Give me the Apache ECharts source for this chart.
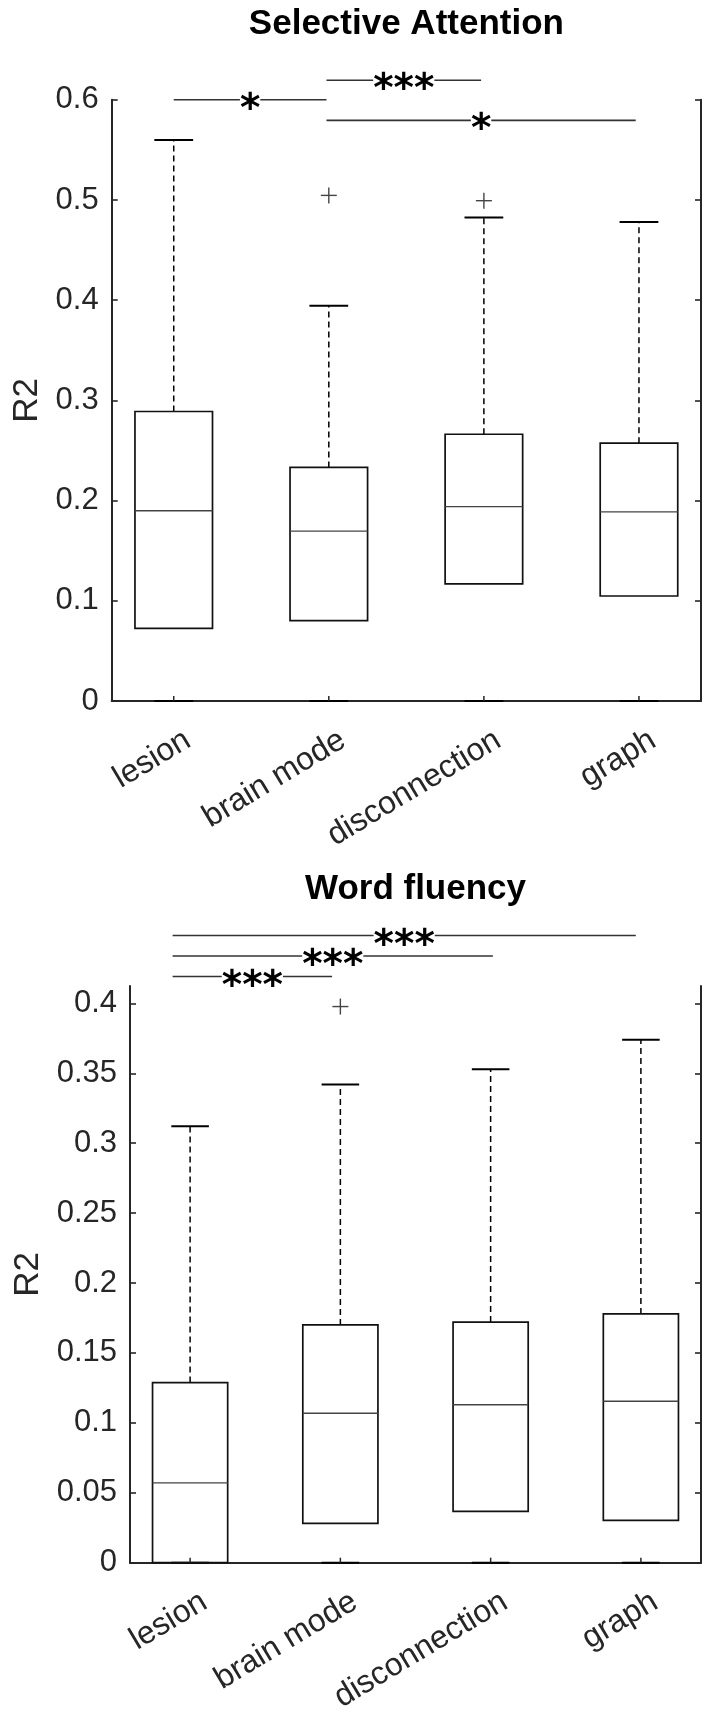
<!DOCTYPE html>
<html>
<head>
<meta charset="utf-8">
<script src="https://cdn.jsdelivr.net/npm/echarts@6/dist/echarts.min.js"></script>
<style>
  html, body { margin: 0; padding: 0; background: #fff; }
  #main { width: 724px; height: 1718px; }
</style>
</head>
<body>
<div id="main"></div>
<script>
var categories = ['lesion', 'brain mode', 'disconnection', 'graph'];

// each row: lower whisker, Q1, median, Q3, upper whisker
var attnStats = [
  [0, 0.0725, 0.1898, 0.2889, 0.5600],
  [0, 0.0803, 0.1695, 0.2331, 0.3945],
  [0, 0.1169, 0.1940, 0.2662, 0.4826],
  [0, 0.1048, 0.1887, 0.2573, 0.4780]
];
var attnOutliers = [[2, 0.5046], [3, 0.4993]];
// x from, x to, height
var attnSig = [[1.0, 1.985, 0.600], [1.985, 2.982, 0.6195], [1.985, 3.979, 0.5795]];
var attnSigText = ['*', '***', '*'];
var attnTicks = [0, 0.1, 0.2, 0.3, 0.4, 0.5, 0.6];

var fluencyStats = [
  [0, 0,      0.0571, 0.1288, 0.3121],
  [0, 0.0281, 0.1069, 0.1700, 0.3419],
  [0, 0.0367, 0.1129, 0.1721, 0.3529],
  [0, 0.0302, 0.1155, 0.1779, 0.3740]
];
var fluencyOutliers = [[2, 0.3977]];
var fluencySig = [[0.8835, 3.966, 0.4485], [0.8835, 3.015, 0.4338], [0.8835, 1.945, 0.4192]];
var fluencySigText = ['***', '***', '***'];
var fluencyTicks = [0, 0.05, 0.1, 0.15, 0.2, 0.25, 0.3, 0.35, 0.4];

var axisColor = '#262626';
var font = '"Liberation Sans", Arial, sans-serif';

var chart = echarts.init(document.getElementById('main'));

function boxItem(params, api) {
  var x = api.value(0);
  var lo = api.coord([x, api.value(1)]);
  var q1 = api.coord([x, api.value(2)]);
  var md = api.coord([x, api.value(3)]);
  var q3 = api.coord([x, api.value(4)]);
  var hi = api.coord([x, api.value(5)]);
  var cx = lo[0];
  var hb = api.coord([x + 0.25, 0])[0] - cx;
  var hc = hb / 2;
  var y0 = api.coord([x, 0])[1];
  var dash = { stroke: '#000', lineWidth: 1.5, lineDash: [6, 4] };
  var kids = [];
  kids.push({ type: 'line', shape: { x1: cx, y1: q3[1], x2: cx, y2: hi[1] }, style: dash });
  if (q1[1] - lo[1] > 0.5) {
    kids.push({ type: 'line', shape: { x1: cx, y1: lo[1], x2: cx, y2: q1[1] }, style: dash });
  }
  kids.push({ type: 'line', shape: { x1: cx - hc, y1: hi[1], x2: cx + hc, y2: hi[1] }, style: { stroke: '#000', lineWidth: 2 } });
  kids.push({ type: 'line', shape: { x1: cx - hc, y1: lo[1], x2: cx + hc, y2: lo[1] }, style: { stroke: '#000', lineWidth: 2 } });
  kids.push({ type: 'rect', shape: { x: cx - hb, y: q3[1], width: 2 * hb, height: q1[1] - q3[1] }, style: { fill: null, stroke: '#111', lineWidth: 1.7 } });
  kids.push({ type: 'line', shape: { x1: cx - hb, y1: md[1], x2: cx + hb, y2: md[1] }, style: { stroke: '#444', lineWidth: 1.4 } });
  kids.push({ type: 'line', shape: { x1: cx, y1: y0, x2: cx, y2: y0 - 5 }, style: { stroke: axisColor, lineWidth: 1.5 } });
  return { type: 'group', children: kids };
}

function plusItem(params, api) {
  var p = api.coord([api.value(0), api.value(1)]);
  var s = 8;
  return {
    type: 'group',
    children: [
      { type: 'line', shape: { x1: p[0] - s, y1: p[1], x2: p[0] + s, y2: p[1] }, style: { stroke: '#444', lineWidth: 1.4 } },
      { type: 'line', shape: { x1: p[0], y1: p[1] - s, x2: p[0], y2: p[1] + s }, style: { stroke: '#444', lineWidth: 1.4 } }
    ]
  };
}

function sigRenderer(texts) {
  return function (params, api) {
    var a = api.coord([api.value(0), api.value(2)]);
    var b = api.coord([api.value(1), api.value(2)]);
    return {
      type: 'group',
      children: [
        { type: 'line', shape: { x1: a[0], y1: a[1], x2: b[0], y2: b[1] }, style: { stroke: '#333', lineWidth: 1.6 } },
        { type: 'text', x: (a[0] + b[0]) / 2, y: a[1] + 11, style: {
          text: texts[params.dataIndex], align: 'center', verticalAlign: 'middle',
          font: 'bold 39px "DejaVu Sans", sans-serif', fill: '#000', backgroundColor: '#fff'
        } }
      ]
    };
  };
}

function labelItem(params, api) {
  var p = api.coord([api.value(0), 0]);
  return {
    type: 'text', x: p[0] + 6, y: p[1] + 23, rotation: 31 * Math.PI / 180,
    style: { text: categories[params.dataIndex], align: 'right', verticalAlign: 'top', font: '32px ' + font, fill: axisColor }
  };
}

function yAxes(gi, max, ticks, gap) {
  var common = {
    type: 'value', gridIndex: gi, min: 0, max: max,
    axisLine: { show: true, lineStyle: { color: axisColor, width: 2 } },
    axisTick: { show: true, inside: true, length: 6, customValues: ticks, lineStyle: { color: axisColor, width: 1.6 } },
    splitLine: { show: false }
  };
  var left = Object.assign({}, common, {
    position: 'left',
    axisLabel: { customValues: ticks, fontSize: 31, fontFamily: font, color: axisColor, margin: 13,
      formatter: function (v) { return String(+v.toFixed(3)); } },
    name: 'R2', nameLocation: 'middle', nameGap: gap,
    nameTextStyle: { fontSize: 35, fontFamily: font, color: axisColor }
  });
  var right = Object.assign({}, common, { position: 'right', axisLabel: { show: false } });
  return [left, right];
}

function xAxis(gi) {
  return {
    type: 'value', gridIndex: gi, min: 0.6, max: 4.4,
    axisLine: { show: true, onZero: false, lineStyle: { color: axisColor, width: 2 } },
    axisTick: { show: false }, axisLabel: { show: false }, splitLine: { show: false }
  };
}

function boxData(stats) {
  return stats.map(function (s, i) { return [i + 1].concat(s); });
}
var labelData = categories.map(function (c, i) { return [i + 1]; });

chart.setOption({
  animation: false,
  graphic: [
    { type: 'text', x: 406.4, y: 24, style: { text: 'Selective Attention', align: 'center', verticalAlign: 'middle', font: 'bold 35px ' + font, fill: '#000' } },
    { type: 'text', x: 415.5, y: 889, style: { text: 'Word fluency', align: 'center', verticalAlign: 'middle', font: 'bold 35px ' + font, fill: '#000' } }
  ],
  grid: [
    { left: 111.7, top: 99.8, width: 589.3, height: 601.2 },
    { left: 130, top: 986, width: 571, height: 576.7 }
  ],
  xAxis: [xAxis(0), xAxis(1)],
  yAxis: yAxes(0, 0.6, attnTicks, 66).concat(yAxes(1, 0.4124, fluencyTicks, 84)),
  series: [
    { type: 'custom', xAxisIndex: 0, yAxisIndex: 0, renderItem: boxItem, data: boxData(attnStats), encode: { x: 0, y: [1, 2, 3, 4, 5] } },
    { type: 'custom', xAxisIndex: 0, yAxisIndex: 0, renderItem: plusItem, data: attnOutliers },
    { type: 'custom', xAxisIndex: 0, yAxisIndex: 0, renderItem: sigRenderer(attnSigText), data: attnSig },
    { type: 'custom', xAxisIndex: 0, yAxisIndex: 0, renderItem: labelItem, data: labelData },
    { type: 'custom', xAxisIndex: 1, yAxisIndex: 2, renderItem: boxItem, data: boxData(fluencyStats), encode: { x: 0, y: [1, 2, 3, 4, 5] } },
    { type: 'custom', xAxisIndex: 1, yAxisIndex: 2, renderItem: plusItem, data: fluencyOutliers },
    { type: 'custom', xAxisIndex: 1, yAxisIndex: 2, renderItem: sigRenderer(fluencySigText), data: fluencySig },
    { type: 'custom', xAxisIndex: 1, yAxisIndex: 2, renderItem: labelItem, data: labelData }
  ]
});
</script>
</body>
</html>
